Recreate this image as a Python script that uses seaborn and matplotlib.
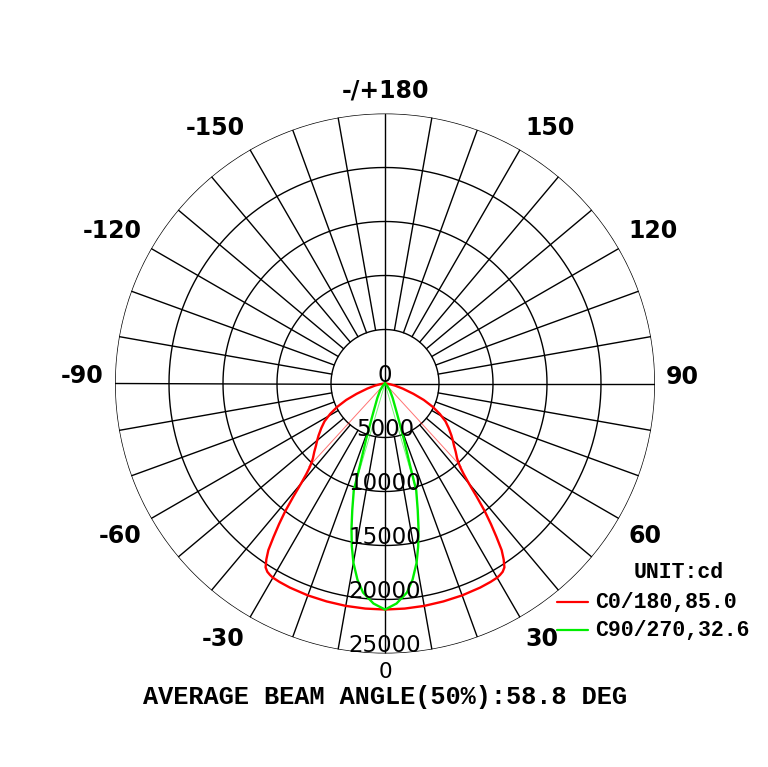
import numpy as np
import matplotlib
matplotlib.use("Agg")
import matplotlib.pyplot as plt
import matplotlib.transforms as mtransforms
from matplotlib.lines import Line2D
import seaborn as sns

# ---------------- data ----------------
ring_values = [5000, 10000, 15000, 20000, 25000]
ring_labels = ["0", "5000", "10000", "15000", "20000", "25000"]
angle_ticks = [0, 30, 60, 90, 120, 150, 180, -150, -120, -90, -60, -30]
angle_labels = ["0", "30", "60", "90", "120", "150", "-/+180",
                "-150", "-120", "-90", "-60", "-30"]

# C0/180 plane (gamma in degrees, intensity in cd), symmetric halves
red_gamma = [0, 5, 10, 15, 20, 25, 28, 30, 31, 32, 33, 34, 35, 36, 37, 38,
             39, 40, 41, 42, 43, 44, 46, 48, 50, 52, 55, 58, 61, 64, 67, 70,
             74, 78, 82, 86, 90]
red_cd = [20930, 20920, 20910, 20890, 20880, 20850, 20810, 20760, 20680,
          20560, 20300, 19650, 18830, 17550, 16300, 15000, 13500, 12100,
          11100, 10400, 9950, 9600, 9100, 8600, 8200, 7800, 7200, 6600,
          5800, 4900, 3900, 2800, 1700, 950, 450, 120, 0]

# C90/270 plane
green_gamma = [0, 3, 6, 8, 10, 11.5, 13, 14.5, 16.3, 17, 18.7, 21.8, 28,
               35, 45, 60, 90]
green_cd = [20930, 20400, 19460, 18340, 16850, 15400, 13800, 12100, 10300,
            7940, 5480, 2990, 1500, 800, 250, 0, 0]

beam_angles = [85.0, 32.6]
series_names = ["C0/180", "C90/270"]
series_colors = ["#ff0000", "#00ee00"]
max_cd = 20930
unit_text = "UNIT:cd"
footer = "AVERAGE BEAM ANGLE(50%):58.8 DEG"

# ---------------- figure ----------------
sns.set_style("white")
plt.rcParams["font.family"] = ["DejaVu Sans"]
plt.rcParams["text.color"] = "black"

W, H = 768, 767
fig = plt.figure(figsize=(W / 100, H / 100), dpi=100)
cx, cy, R = 385, 383.5, 270
ax = fig.add_axes([(cx - R) / W, (H - cy - R) / H, 2 * R / W, 2 * R / H],
                  projection="polar")
ax.set_theta_zero_location("S")
ax.set_theta_direction(1)
ax.set_rlim(0, 25000)
ax.grid(False)
ax.set_xticks([])
ax.set_yticks([])
ax.spines["polar"].set_visible(False)
ax.patch.set_alpha(0)

gcol = "#000000"
glw = 1.0
full = np.linspace(0, 2 * np.pi, 721)
for rv in ring_values:
    ax.plot(full, np.full_like(full, rv), color=gcol, lw=glw, zorder=1)
for a in range(0, 360, 10):
    t = np.deg2rad(a)
    r0 = 0 if a % 90 == 0 else ring_values[0]
    ax.plot([t, t], [r0, ring_values[-1]], color=gcol, lw=glw, zorder=1)


def full_curve(gam, cd):
    g = np.array(gam, dtype=float)
    v = np.array(cd, dtype=float)
    th = np.concatenate([-g[::-1], g[1:]])
    rr = np.concatenate([v[::-1], v[1:]])
    return np.deg2rad(th), rr


for gam, cd, col, ba in [(red_gamma, red_cd, series_colors[0], beam_angles[0]),
                         (green_gamma, green_cd, series_colors[1], beam_angles[1])]:
    th, rr = full_curve(gam, cd)
    sns.lineplot(x=th, y=rr, ax=ax, color=col, linewidth=1.7, sort=False,
                 estimator=None, zorder=4)
    half = np.deg2rad(ba / 2)
    for s in (-1, 1):
        ax.plot([0, s * half], [0, max_cd / 2], color=col, lw=0.7,
                alpha=0.55, zorder=3)

ax.set_xlabel("")
ax.set_ylabel("")

# ring labels
off = mtransforms.offset_copy(ax.transData, fig=fig, y=1.5, units="dots")
for rv, lab in zip([0] + ring_values, ring_labels):
    ax.text(0, rv, lab, transform=off, ha="center", va="baseline",
            fontsize=16.5, color="black", zorder=6)

# angle labels
r_lab = 25000 * 281 / 270
for a, lab in zip(angle_ticks, angle_labels):
    t = np.deg2rad(a)
    if a == 0:
        # bottom label sits just above the footer line
        ax.text(t, 25000, lab, transform=mtransforms.offset_copy(
                    ax.transData, fig=fig, y=-25, units="dots"),
                ha="center", va="baseline", fontsize=15.5, color="black",
                clip_on=False)
        continue
    if a == 180:
        ha = "center"
    elif a > 0:
        ha = "left"
    else:
        ha = "right"
    if abs(a) == 90:
        va = "baseline"
    elif abs(a) < 90:
        va = "top"
    else:
        va = "bottom"
    ax.text(t, r_lab, lab, ha=ha, va=va, fontsize=17, fontweight="bold",
            color="black", clip_on=False)

mono = ["Liberation Mono", "DejaVu Sans Mono"]
fig.text(cx / W, 1 - 697 / H, footer, ha="center", va="center",
         fontsize=18.2, fontweight="bold", family=mono, color="black")

# legend
fig.text(679 / W, 1 - 573 / H, unit_text, ha="center", va="center",
         fontsize=15.5, fontweight="bold", family=mono, color="black")
for i, (nm, col, ba) in enumerate(zip(series_names, series_colors, beam_angles)):
    yy = 1 - (602 + 28 * i) / H
    fig.add_artist(Line2D([557 / W, 588 / W], [yy, yy], color=col, lw=1.6))
    fig.text(595 / W, yy, f"{nm},{ba:.1f}", ha="left", va="center",
             fontsize=15.5, fontweight="bold", family=mono, color="black")

fig.savefig("out.png", dpi=100)
